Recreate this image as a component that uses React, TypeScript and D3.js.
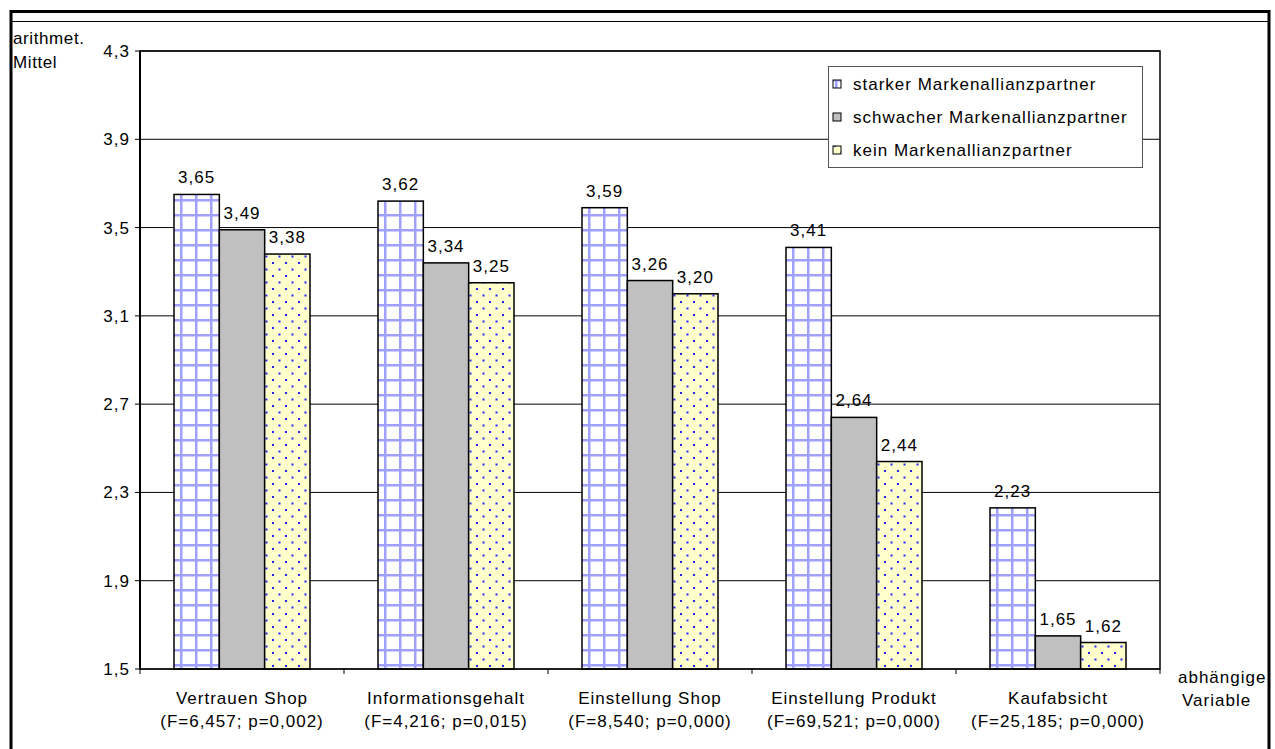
import React from "react";
import * as d3 from "d3";

const categories = ["Vertrauen Shop", "Informationsgehalt", "Einstellung Shop", "Einstellung Produkt", "Kaufabsicht"];
const stats = ["(F=6,457; p=0,002)", "(F=4,216; p=0,015)", "(F=8,540; p=0,000)", "(F=69,521; p=0,000)", "(F=25,185; p=0,000)"];
const seriesNames = ["starker Markenallianzpartner", "schwacher Markenallianzpartner", "kein Markenallianzpartner"];
const starker = [3.65, 3.62, 3.59, 3.41, 2.23];
const schwacher = [3.49, 3.34, 3.26, 2.64, 1.65];
const kein = [3.38, 3.25, 3.2, 2.44, 1.62];
const yTicks = [1.5, 1.9, 2.3, 2.7, 3.1, 3.5, 3.9, 4.3];

const seriesValues = [starker, schwacher, kein];
const fills = ["url(#gridPat)", "#c0c0c0", "url(#dotPat)"];

const W = 1275;
const H = 749;
const plot = { left: 140, right: 1160, top: 51, bottom: 669 };
const font = "'Liberation Sans', Arial, sans-serif";
const fmt = (v: number) => v.toFixed(2).replace(".", ",");
const fmtTick = (v: number) => v.toFixed(1).replace(".", ",");

export default function App() {
  const x = d3.scaleBand<string>().domain(categories).range([plot.left, plot.right]).padding(0);
  const xs = d3
    .scaleBand<string>()
    .domain(seriesNames)
    .range([0, x.bandwidth()])
    .paddingInner(0)
    .paddingOuter(0.75);
  const y = d3.scaleLinear().domain([1.5, 4.3]).range([plot.bottom, plot.top]);

  const txt = { fontFamily: font, fontSize: 17, letterSpacing: 1, fill: "#000" } as const;

  return (
    <svg width={W} height={H} style={{ position: "absolute", left: 0, top: 0 }}>
      <defs>
        <pattern id="gridPat" patternUnits="userSpaceOnUse" width={15} height={15} x={10} y={4}>
          <rect width={15} height={15} fill="#fff" />
          <rect x={0} y={0} width={2.5} height={15} fill="#a0a0ff" />
          <rect x={0} y={0} width={15} height={2.5} fill="#a0a0ff" />
        </pattern>
        <pattern id="dotPat" patternUnits="userSpaceOnUse" width={13} height={13}>
          <rect width={13} height={13} fill="#ffffcc" />
          <rect x={2} y={2} width={2} height={2} fill="#2222ff" />
          <rect x={8.5} y={8.5} width={2} height={2} fill="#2222ff" />
        </pattern>
      </defs>
      <rect width={W} height={H} fill="#fff" />

      {/* outer frame */}
      <line x1={11} x2={11} y1={10} y2={H} stroke="#000" strokeWidth={3} />
      <line x1={1269} x2={1269} y1={10} y2={H} stroke="#000" strokeWidth={3} />
      <line x1={10} x2={1270} y1={11.5} y2={11.5} stroke="#000" strokeWidth={3} />
      <line x1={11} x2={1269} y1={21.5} y2={21.5} stroke="#000" strokeWidth={1} />

      {/* gridlines */}
      {yTicks.map((t) => (
        <g key={t}>
          <line x1={plot.left - 5} x2={plot.right} y1={y(t)} y2={y(t)} stroke="#000" strokeWidth={1} />
          <text x={plot.left - 10} y={y(t) + 6} textAnchor="end" {...txt}>
            {fmtTick(t)}
          </text>
        </g>
      ))}

      {/* bars */}
      {categories.map((c, i) => (
        <g key={c} transform={`translate(${x(c)},0)`}>
          {seriesNames.map((s, k) => {
            const v = seriesValues[k][i];
            const bx = xs(s)!;
            return (
              <g key={s}>
                <rect
                  x={bx}
                  y={y(v)}
                  width={xs.bandwidth()}
                  height={y(1.5) - y(v)}
                  fill={fills[k]}
                  stroke="#000"
                  strokeWidth={1.5}
                />
                <text x={bx + xs.bandwidth() / 2} y={y(v) - 11} textAnchor="middle" {...txt}>
                  {fmt(v)}
                </text>
              </g>
            );
          })}
        </g>
      ))}

      {/* plot frame */}
      <rect
        x={plot.left}
        y={plot.top}
        width={plot.right - plot.left}
        height={plot.bottom - plot.top}
        fill="none"
        stroke="#000"
        strokeWidth={1.5}
      />
      <line x1={plot.left} x2={plot.left} y1={plot.top} y2={plot.bottom} stroke="#000" strokeWidth={2} />

      {/* x ticks and labels */}
      {[...categories.map((c) => x(c)!), plot.right].map((p, i) => (
        <line key={i} x1={p} x2={p} y1={plot.bottom} y2={plot.bottom + 5} stroke="#000" strokeWidth={1} />
      ))}
      {categories.map((c, i) => {
        const cx = x(c)! + x.bandwidth() / 2;
        return (
          <g key={c}>
            <text x={cx} y={704} textAnchor="middle" {...txt}>
              {c}
            </text>
            <text x={cx} y={727} textAnchor="middle" {...txt}>
              {stats[i]}
            </text>
          </g>
        );
      })}

      {/* axis titles */}
      <text x={13} y={44} {...txt} letterSpacing={0.6}>
        arithmet.
      </text>
      <text x={13} y={68} {...txt} letterSpacing={0.6}>
        Mittel
      </text>
      <text x={1178} y={683} {...txt}>
        abhängige
      </text>
      <text x={1182} y={706} {...txt}>
        Variable
      </text>

      {/* legend */}
      <rect x={828.5} y={66.5} width={314} height={101} fill="#fff" stroke="#555" strokeWidth={1} />
      {seriesNames.map((s, k) => {
        const cy = 84 + k * 33;
        return (
          <g key={s}>
            <rect x={833} y={cy - 4} width={8} height={8} fill={fills[k]} stroke="#000" strokeWidth={1} />
            <text x={853} y={cy + 6} {...txt}>
              {s}
            </text>
          </g>
        );
      })}
    </svg>
  );
}
